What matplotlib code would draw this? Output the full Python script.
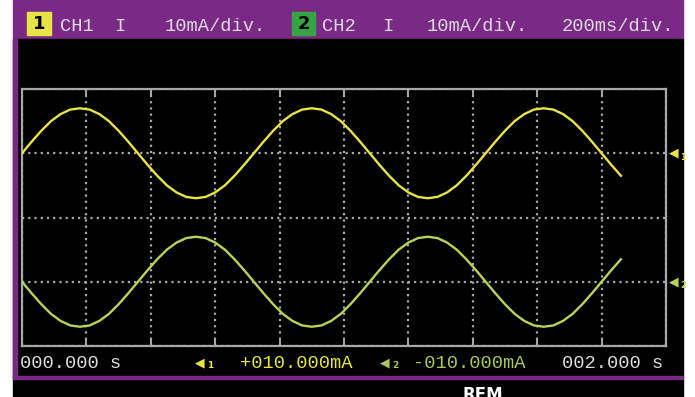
"""Recriação da tela do osciloscópio (CH1/CH2, 10mA/div, 200ms/div)."""

import matplotlib

matplotlib.use("Agg")
import matplotlib.pyplot as plt  # noqa: E402
from matplotlib.patches import Rectangle  # noqa: E402

W, H = 695, 397

T = [
    0.00, 0.03, 0.06, 0.09, 0.12, 0.15, 0.18, 0.21, 0.24, 0.27, 0.30, 0.33,
    0.36, 0.39, 0.42, 0.45, 0.48, 0.51, 0.54, 0.57, 0.60, 0.63, 0.66, 0.69,
    0.72, 0.75, 0.78, 0.81, 0.84, 0.87, 0.90, 0.93, 0.96, 0.99, 1.02, 1.05,
    1.08, 1.11, 1.14, 1.17, 1.20, 1.23, 1.26, 1.29, 1.32, 1.35, 1.38, 1.41,
    1.44, 1.47, 1.50, 1.53, 1.56, 1.59, 1.62, 1.65, 1.68, 1.71, 1.74, 1.77,
    1.80, 1.83, 1.86,
]
CH1 = [
    0.0, 1.8, 3.5, 5.0, 6.1, 6.8, 7.0, 6.8, 6.1, 5.0, 3.5, 1.8,
    0.0, -1.8, -3.5, -5.0, -6.1, -6.8, -7.0, -6.8, -6.1, -5.0, -3.5, -1.8,
    0.0, 1.8, 3.5, 5.0, 6.1, 6.8, 7.0, 6.8, 6.1, 5.0, 3.5, 1.8,
    0.0, -1.8, -3.5, -5.0, -6.1, -6.8, -7.0, -6.8, -6.1, -5.0, -3.5, -1.8,
    0.0, 1.8, 3.5, 5.0, 6.1, 6.8, 7.0, 6.8, 6.1, 5.0, 3.5, 1.8,
    0.0, -1.8, -3.5,
]
CH2 = [
    0.0, -1.8, -3.5, -5.0, -6.1, -6.8, -7.0, -6.8, -6.1, -5.0, -3.5, -1.8,
    0.0, 1.8, 3.5, 5.0, 6.1, 6.8, 7.0, 6.8, 6.1, 5.0, 3.5, 1.8,
    0.0, -1.8, -3.5, -5.0, -6.1, -6.8, -7.0, -6.8, -6.1, -5.0, -3.5, -1.8,
    0.0, 1.8, 3.5, 5.0, 6.1, 6.8, 7.0, 6.8, 6.1, 5.0, 3.5, 1.8,
    0.0, -1.8, -3.5, -5.0, -6.1, -6.8, -7.0, -6.8, -6.1, -5.0, -3.5, -1.8,
    0.0, 1.8, 3.5,
]

# Nível de referência (marcadores ◄1 / ◄2) de cada canal, em mA na tela.
CH1_GND = 10
CH2_GND = -10

ROXO = "#7a2a86"
AMARELO = "#e8e444"
VERDE_TRACO = "#b8d458"
VERDE_TEXTO = "#a8c85a"
VERDE_BADGE = "#36a444"
CINZA = "#a8a8a8"
TEXTO = "#dcdcdc"
MONO = ["Liberation Mono", "DejaVu Sans Mono"]


def fx(x):
    return x / W


def fy(y):
    return 1 - y / H


def retangulo(fig, x0, y0, x1, y1, cor):
    fig.patches.append(Rectangle((fx(x0), fy(y1)), (x1 - x0) / W, (y1 - y0) / H,
                                 transform=fig.transFigure, color=cor, zorder=-10))


def texto(fig, x, y, s, cor=TEXTO, size=13.5, family=MONO, **kw):
    fig.text(fx(x), fy(y), s, color=cor, fontsize=size, family=family,
             va="baseline", ha=kw.pop("ha", "left"), **kw)


fig = plt.figure(figsize=(W / 100, H / 100), dpi=100)
fig.patch.set_facecolor("white")

# moldura da tela
retangulo(fig, 13, 0, 683, 39, ROXO)
retangulo(fig, 13, 39, 683, 397, "black")
retangulo(fig, 13, 39, 17, 379, ROXO)
retangulo(fig, 13, 376, 683, 379, ROXO)

# cabeçalho
retangulo(fig, 27, 12, 51, 35, AMARELO)
retangulo(fig, 292, 12, 315, 35, VERDE_BADGE)
fig.text(fx(39), fy(24), "1", color="black", fontsize=13, weight="bold",
         ha="center", va="center")
fig.text(fx(303.5), fy(24), "2", color="black", fontsize=13, weight="bold",
         ha="center", va="center")
texto(fig, 60, 31, "CH1")
texto(fig, 114, 31, "I")
texto(fig, 165, 31, "10mA/div.")
texto(fig, 322, 31, "CH2")
texto(fig, 382, 31, "I")
texto(fig, 427, 31, "10mA/div.")
texto(fig, 562, 31, "200ms/div.")

# área de traços
ax = fig.add_axes([fx(22), fy(346), (666 - 22) / W, (346 - 89) / H])
ax.set_zorder(1)
ax.set_facecolor("black")
ax.set_xlim(0, 2)
ax.set_ylim(-20, 20)
ax.set_xticks([i * 0.2 for i in range(11)])
ax.set_yticks([-20, -10, 0, 10, 20])
ax.set_xticklabels([])
ax.set_yticklabels([])
ax.tick_params(axis="y", length=0)
ax.grid(True, color=CINZA, lw=1.6, ls=(0, (1, 1.8)))
for sp in ax.spines.values():
    sp.set_color(CINZA)
    sp.set_linewidth(1.6)
# marquinhas na borda inferior/superior
ax.tick_params(axis="x", direction="in", length=5, width=1.4, color=CINZA,
               top=True, bottom=True)

ax.plot(T, [v + CH1_GND for v in CH1], color=AMARELO, lw=1.7, zorder=3)
ax.plot(T, [v + CH2_GND for v in CH2], color=VERDE_TRACO, lw=1.7, zorder=3)

# marcadores de nível à direita
for gnd, cor, n in [(CH1_GND, AMARELO, "1"), (CH2_GND, VERDE_TRACO, "2")]:
    ax.text(1.005, gnd, "◀", color=cor, fontsize=9, family="DejaVu Sans",
            transform=ax.get_yaxis_transform(), va="center", ha="left", clip_on=False)
    ax.text(1.022, gnd - 0.6, n, color=cor, fontsize=6, weight="bold",
            transform=ax.get_yaxis_transform(), va="center", ha="left", clip_on=False)

# rodapé
texto(fig, 20, 368, "000.000 s")
fig.text(fx(195), fy(363), "◀", color=AMARELO, fontsize=9, family="DejaVu Sans", va="center")
fig.text(fx(207), fy(365), "1", color=AMARELO, fontsize=6.5, weight="bold", va="center")
texto(fig, 240, 368, "+010.000mA", cor=AMARELO)
fig.text(fx(380), fy(363), "◀", color=VERDE_TEXTO, fontsize=9, family="DejaVu Sans", va="center")
fig.text(fx(392), fy(365), "2", color=VERDE_TEXTO, fontsize=6.5, weight="bold", va="center")
texto(fig, 413, 368, "-010.000mA", cor=VERDE_TEXTO)
texto(fig, 562, 368, "002.000 s")
fig.text(fx(483), fy(386), "REM", color="white", fontsize=12, weight="bold",
         ha="center", va="top")

fig.savefig("out.png", dpi=100)
